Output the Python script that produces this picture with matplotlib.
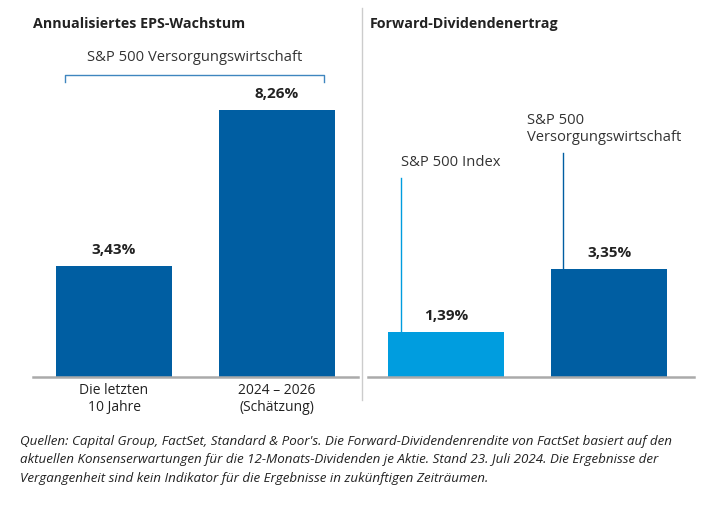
import matplotlib
matplotlib.use("Agg")
import matplotlib.pyplot as plt

plt.rcParams['font.family'] = ['Open Sans', 'DejaVu Sans']

eps_categories = ["Die letzten\n10 Jahre", "2024 – 2026\n(Schätzung)"]
eps_values = [3.43, 8.26]
eps_labels = ["3,43%", "8,26%"]
div_series = ["S&P 500 Index", "S&P 500\nVersorgungswirtschaft"]
div_values = [1.39, 3.35]
div_labels = ["1,39%", "3,35%"]

DARK = "#005ea2"
LIGHT = "#009ddf"
TXT = "#222222"
W, H = 719, 505
fig = plt.figure(figsize=(W/100, H/100), dpi=100)

px = 32.35  # pixels per unit
base = 377
top = 30
ymax = (base - top) / px

def ax_at(x0, x1):
    return fig.add_axes([x0/W, (H-base)/H, (x1-x0)/W, (base-top)/H])

bw = 116/163
axL = ax_at(33, 358)
axL.set_xlim(-0.497, 1.497)
axL.set_ylim(0, ymax)
axL.bar(range(2), eps_values, width=bw, color=DARK)
for i, (v, l) in enumerate(zip(eps_values, eps_labels)):
    axL.text(i, v + 0.28, l, ha='center', va='bottom', fontsize=11, fontweight='bold', color=TXT)
for i, c in enumerate(eps_categories):
    axL.text(i, -0.2, c, ha='center', va='top', fontsize=10, color=TXT, linespacing=1.15)
# bracket
bx0, bx1 = -0.30, 1.288
by, byt = (base-75)/px, (base-82)/px
axL.plot([bx0, bx0, bx1, bx1], [byt, by, by, byt], color="#3f86bf", lw=1.0, clip_on=False)
axL.text((bx0+bx1)/2, by + 0.3, "S&P 500 Versorgungswirtschaft", ha='center', va='bottom',
         fontsize=10.6, color="#333333")

axR = ax_at(368, 694)
axR.set_xlim(-0.48, 1.52)
axR.set_ylim(0, ymax)
cols = [LIGHT, DARK]
axR.bar(range(2), div_values, width=bw, color=cols)
for i, (v, l) in enumerate(zip(div_values, div_labels)):
    axR.text(i, v + 0.28, l, ha='center', va='bottom', fontsize=11, fontweight='bold', color=TXT)
lead_tops = [(base-178)/px, (base-153)/px]
lead_dx = [13/163, 12/163]
text_x = [13/163, -24/163]
for i, (v, t) in enumerate(zip(div_values, lead_tops)):
    xl = i - bw/2 + lead_dx[i]
    axR.plot([xl, xl], [v, t], color=cols[i], lw=1.0)
    axR.text(i - bw/2 + text_x[i], t + 0.25, div_series[i], ha='left', va='bottom',
             fontsize=10.6, color="#333333", linespacing=1.2)

for ax in (axL, axR):
    for s in ax.spines.values():
        s.set_visible(False)
    ax.set_xticks([]); ax.set_yticks([])
    ax.axhline(0, color="#aaaaaa", lw=1.8, clip_on=False)

# divider
fig.add_artist(plt.Line2D([362/W, 362/W], [1-8/H, 1-400/H], color="#cccccc", lw=1.0))

fig.text(33/W, 1-24/H, "Annualisiertes EPS-Wachstum", ha='left', va='center', fontsize=10.3,
         fontweight='bold', color=TXT)
fig.text(370/W, 1-24/H, "Forward-Dividendenertrag", ha='left', va='center', fontsize=10.3,
         fontweight='bold', color=TXT)

foot = ("Quellen: Capital Group, FactSet, Standard & Poor's. Die Forward-Dividendenrendite von FactSet basiert auf den\n"
        "aktuellen Konsenserwartungen für die 12-Monats-Dividenden je Aktie. Stand 23. Juli 2024. Die Ergebnisse der\n"
        "Vergangenheit sind kein Indikator für die Ergebnisse in zukünftigen Zeiträumen.")
fig.text(20/W, 1-435/H, foot, ha='left', va='top', fontsize=9.6, style='italic', color=TXT, linespacing=1.55)

fig.savefig("out.png", dpi=100)
